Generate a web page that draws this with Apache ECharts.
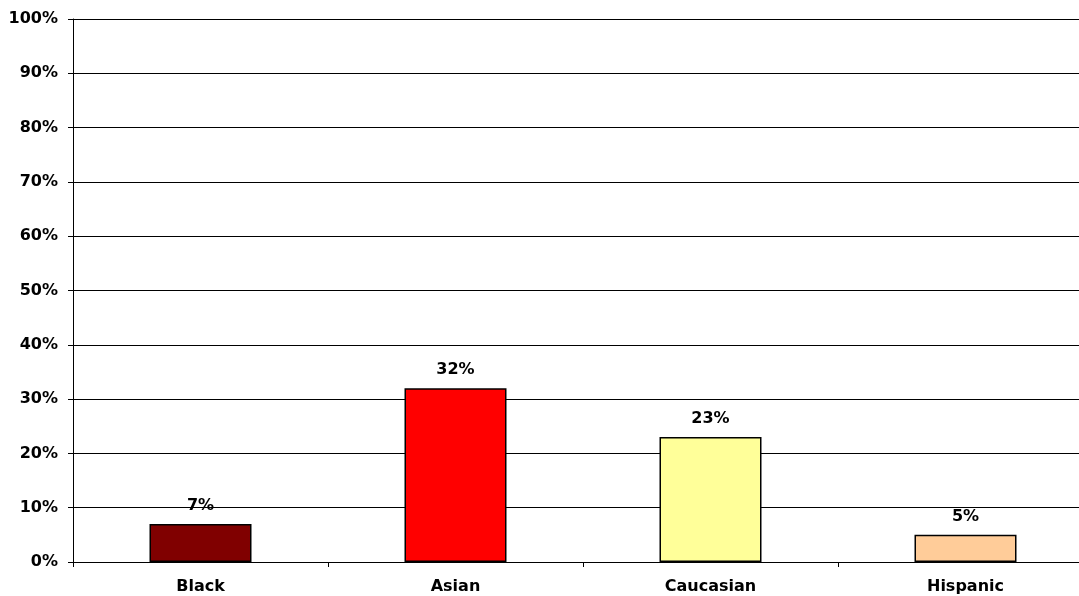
<!DOCTYPE html>
<html>
<head>
    <meta charset="utf-8">
    <title>Bar chart</title>
    <script src="https://cdn.jsdelivr.net/npm/echarts@6/dist/echarts.min.js"></script>
</head>
<body style="margin:0;background:#fff;overflow:hidden;">
    <!-- the plot runs a little past the right edge, as in the original -->
    <div id="main" style="width:1100px;height:596px;"></div>
    <script type="text/javascript">
        var categories = ['Black', 'Asian', 'Caucasian', 'Hispanic'];
        var values = [7, 32, 23, 5];
        var barColors = ['#800000', '#ff0000', '#ffff99', '#ffcc99'];

        var myChart = echarts.init(document.getElementById('main'));

        var font = 'DejaVu Sans, Verdana, sans-serif';

        var option = {
            animation: false,
            backgroundColor: '#ffffff',
            grid: { left: 73, right: 7, top: 19, bottom: 34 },
            xAxis: {
                type: 'category',
                data: categories,
                axisLine: { lineStyle: { color: '#000', width: 1 } },
                axisTick: { show: true, length: 5, lineStyle: { color: '#000' } },
                axisLabel: { color: '#000', fontFamily: font, fontWeight: 'bold', fontSize: 16, margin: 17 }
            },
            yAxis: {
                type: 'value',
                min: 0,
                max: 100,
                interval: 10,
                axisLine: { show: true, lineStyle: { color: '#000', width: 1 } },
                axisTick: { show: true, length: 5, lineStyle: { color: '#000' } },
                axisLabel: { color: '#000', fontFamily: font, fontWeight: 'bold', fontSize: 16, margin: 15,
                    formatter: '{value}%' },
                splitLine: { show: true, lineStyle: { color: '#000', width: 1 } }
            },
            series: [{
                type: 'bar',
                barWidth: '40%',
                data: values.map(function (v, i) {
                    return { value: v, itemStyle: { color: barColors[i] } };
                }),
                itemStyle: { borderColor: '#000', borderWidth: 1.5 },
                label: {
                    show: true,
                    position: 'top',
                    distance: 10,
                    color: '#000',
                    fontFamily: font,
                    fontWeight: 'bold',
                    fontSize: 16,
                    formatter: '{c}%'
                }
            }]
        };
        myChart.setOption(option);
    </script>
</body>
</html>
